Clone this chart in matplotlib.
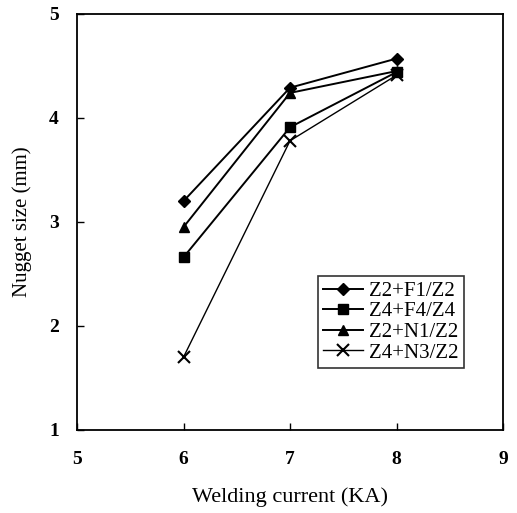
import matplotlib.pyplot as plt

# welding current (kA)
current = [6, 7, 8]

# nugget size (mm) per electrode/sheet combination
z2_f1 = [3.20, 4.29, 4.57]
z4_f4 = [2.66, 3.91, 4.44]
z2_n1 = [2.95, 4.24, 4.45]
z4_n3 = [1.70, 3.78, 4.41]

labels = ['Z2+F1/Z2', 'Z4+F4/Z4', 'Z2+N1/Z2', 'Z4+N3/Z2']

plt.rcParams['font.family'] = ['Liberation Serif', 'DejaVu Serif']

fig = plt.figure(figsize=(5.17, 5.13), dpi=100)
ax = fig.add_axes([0.149, 0.162, 0.824, 0.811])

ax.plot(current, z2_f1, 'kD-', ms=6, lw=1.4, label=labels[0])
ax.plot(current, z4_f4, 'ks-', ms=7, lw=1.4, label=labels[1])
ax.plot(current, z2_n1, 'k^-', ms=7, lw=1.4, label=labels[2])
ax.plot(current, z4_n3, 'kx-', ms=8, mew=1.5, lw=1.0, label=labels[3])

ax.set_xlim(5, 9)
ax.set_ylim(1, 5)
ax.set_xticks([5, 6, 7, 8, 9])
ax.set_yticks([1, 2, 3, 4, 5])
ax.tick_params(direction='in', length=5, width=1, labelsize=14)
ax.tick_params(axis='x', pad=15)
ax.tick_params(axis='y', pad=13)
for t in ax.get_xticklabels() + ax.get_yticklabels():
    t.set_fontweight('bold')
for s in ax.spines.values():
    s.set_linewidth(1.3)

ax.set_xlabel('Welding current (KA)', fontsize=16, labelpad=14)
ax.set_ylabel('Nugget size (mm)', fontsize=15, labelpad=12)

leg = ax.legend(loc='lower right', bbox_to_anchor=(0.908, 0.149), fontsize=15,
                frameon=True, fancybox=False, edgecolor='black',
                handlelength=1.9, handletextpad=0.3, borderpad=0.25,
                labelspacing=0.05, borderaxespad=0)
leg.get_frame().set_linewidth(1.2)

fig.savefig('out.png', dpi=100)
